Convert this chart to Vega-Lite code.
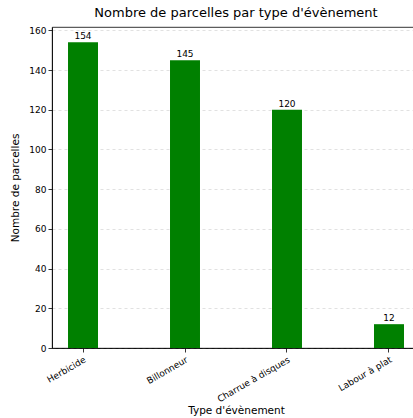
{
  "$schema": "https://vega.github.io/schema/vega-lite/v6.json",
  "autosize": "none",
  "width": 368,
  "height": 321,
  "padding": {"left": 52, "top": 27, "right": 0, "bottom": 70},
  "background": "white",
  "title": {"text": "Nombre de parcelles par type d'évènement", "font": "DejaVu Sans", "fontSize": 13, "fontWeight": "normal", "color": "black", "offset": 6},
  "config": {
    "font": "DejaVu Sans",
    "view": {"stroke": "black", "strokeWidth": 0.8},
    "axis": {"labelFont": "DejaVu Sans", "titleFont": "DejaVu Sans", "labelFontSize": 9, "titleFontSize": 10.5, "titleFontWeight": "normal", "labelColor": "black", "titleColor": "black", "domainColor": "black", "tickColor": "black", "tickSize": 4, "domainWidth": 0.8, "tickWidth": 0.8}
  },
  "data": {"values": [
    {"type": "Herbicide", "n": 154},
    {"type": "Billonneur", "n": 145},
    {"type": "Charrue à disques", "n": 120},
    {"type": "Labour à plat", "n": 12}
  ]},
  "encoding": {
    "x": {"field": "type", "type": "nominal", "sort": null,
      "scale": {"paddingInner": 0.706, "paddingOuter": 0.157},
      "axis": {"title": "Type d'évènement", "labelAngle": -30, "labelAlign": "right", "labelBaseline": "top", "labelPadding": 3, "labelFontSize": 9, "titlePadding": 2}},
    "y": {"field": "n", "type": "quantitative",
      "scale": {"domain": [0, 161.7], "nice": false},
      "axis": {"title": "Nombre de parcelles", "values": [0, 20, 40, 60, 80, 100, 120, 140, 160], "grid": true, "gridDash": [3, 3], "gridColor": "#cccccc", "gridWidth": 0.6, "labelPadding": 2, "titlePadding": 8}}
  },
  "layer": [
    {"mark": {"type": "bar", "color": "#008000"}},
    {"mark": {"type": "text", "baseline": "bottom", "dy": -1, "fontSize": 9, "color": "black"}, "encoding": {"text": {"field": "n", "type": "quantitative"}}}
  ]
}
